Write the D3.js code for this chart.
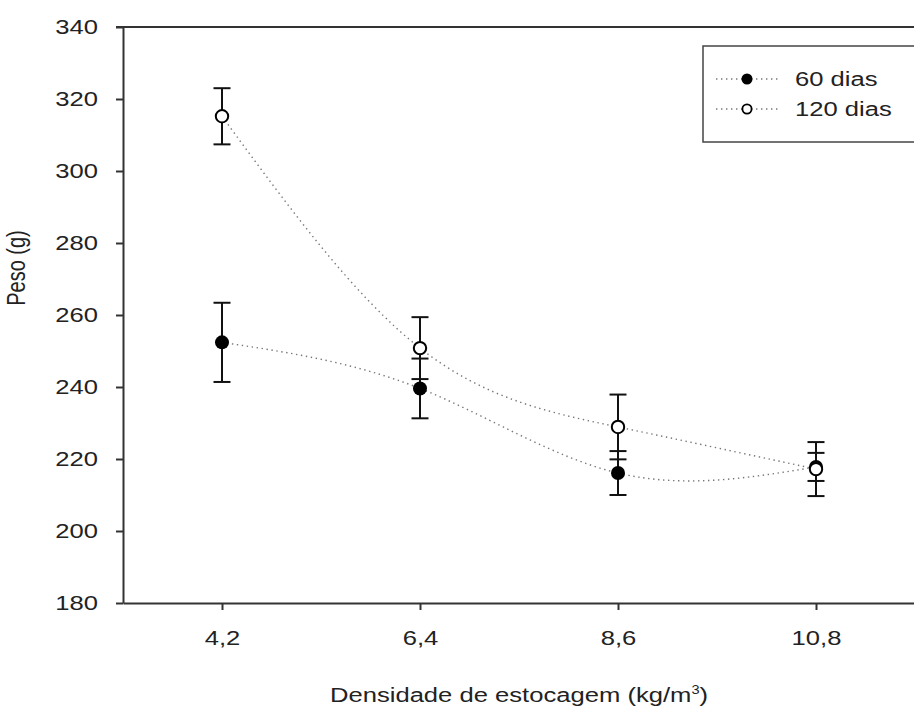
<!DOCTYPE html>
<html>
<head>
<meta charset="utf-8">
<script src="https://cdn.jsdelivr.net/npm/d3@7"></script>
<style>
html,body{margin:0;padding:0;background:#fff;}
svg{display:block;font-family:"Liberation Sans",Arial,sans-serif;}
</style>
</head>
<body>
<svg id="chart" width="914" height="709"></svg>
<script>
// ---- data ----
const xValues = [4.2, 6.4, 8.6, 10.8];
const xTickLabels = ["4,2", "6,4", "8,6", "10,8"];
const mean60 = [252.4, 239.6, 216.1, 217.8];
const err60 = [11.0, 8.3, 6.1, 3.9];
const mean120 = [315.2, 250.8, 228.9, 217.2];
const err120 = [7.8, 8.6, 9.0, 7.5];
const yTickValues = [180, 200, 220, 240, 260, 280, 300, 320, 340];
const seriesNames = ["60 dias", "120 dias"];

(function () {
// ---- layout ----
const svg = d3.select("#chart");
const mLeft = 123, mTop = 27, mBottom = 603, mRight = 915;
const SX = 1.22;          // horizontal text stretch seen in the reference
const FS = 21;            // font size
const x = d3.scaleLinear().domain([3.1, 11.9]).range([mLeft, mRight]);
const y = d3.scaleLinear().domain([180, 340]).range([mBottom, mTop]);

const series = [
  {name: seriesNames[0], mean: mean60, err: err60, fill: "#000"},
  {name: seriesNames[1], mean: mean120, err: err120, fill: "#fff"}
];

// frame top line
svg.append("line").attr("x1", mLeft - 7).attr("x2", 914).attr("y1", y(340)).attr("y2", y(340))
  .attr("stroke", "#333").attr("stroke-width", 2);

// axes
const yAxis = d3.axisLeft(y).tickValues(yTickValues).tickSize(7).tickPadding(18).tickSizeOuter(0);
const gy = svg.append("g").attr("transform", `translate(${mLeft},0)`).call(yAxis);
const xAxis = d3.axisBottom(x).tickValues(xValues).tickFormat((d, i) => xTickLabels[i]).tickSize(7).tickPadding(20).tickSizeOuter(0);
const gx = svg.append("g").attr("transform", `translate(0,${mBottom})`).call(xAxis);
[gx, gy].forEach(g => {
  g.select(".domain").attr("stroke", "#333").attr("stroke-width", 2);
  g.selectAll(".tick line").attr("stroke", "#333").attr("stroke-width", 2);
  g.selectAll(".tick text").attr("fill", "#222").style("font-size", FS + "px")
    .style("font-family", "'Liberation Sans', Arial, sans-serif")
    .attr("transform", `scale(${SX},1)`);
});
gy.selectAll(".tick text").attr("x", -(7 + 18) / SX);

// axis titles
svg.append("g").attr("transform", "translate(25,268) rotate(-90)")
  .append("text").attr("text-anchor", "middle").attr("fill", "#222")
  .attr("transform", `scale(0.95,${SX})`)
  .style("font-size", FS + "px").text("Peso (g)");
const xt = svg.append("g").attr("transform", "translate(519,702)")
  .append("text").attr("text-anchor", "middle").attr("transform", `scale(${SX},1)`)
  .attr("fill", "#222").style("font-size", FS + "px");
xt.append("tspan").text("Densidade de estocagem (kg/m");
xt.append("tspan").attr("dy", -8).style("font-size", "12px").text("3");
xt.append("tspan").attr("dy", 8).text(")");

// fitted curves
const line = d3.line().x(d => x(d[0])).y(d => y(d[1])).curve(d3.curveNatural);
series.forEach(s => {
  svg.append("path").datum(xValues.map((v, i) => [v, s.mean[i]]))
    .attr("d", line).attr("fill", "none").attr("stroke", "#777")
    .attr("stroke-width", 1.4).attr("stroke-dasharray", "1.4,3.6");
});

// error bars
const cap = 8.5;
series.forEach(s => {
  const g = svg.append("g");
  xValues.forEach((v, i) => {
    const cx = x(v), y1 = y(s.mean[i] + s.err[i]), y2 = y(s.mean[i] - s.err[i]);
    g.append("line").attr("x1", cx).attr("x2", cx).attr("y1", y1).attr("y2", y2)
      .attr("stroke", "#111").attr("stroke-width", 2);
    [y1, y2].forEach(yy => g.append("line").attr("x1", cx - cap).attr("x2", cx + cap)
      .attr("y1", yy).attr("y2", yy).attr("stroke", "#111").attr("stroke-width", 2));
  });
});

// markers
series.forEach(s => {
  svg.append("g").selectAll("circle").data(xValues).join("circle")
    .attr("cx", d => x(d)).attr("cy", (d, i) => y(s.mean[i]))
    .attr("r", s.fill === "#000" ? 7 : 6.2)
    .attr("fill", s.fill).attr("stroke", "#000").attr("stroke-width", s.fill === "#000" ? 0 : 2);
});

// legend
const lg = svg.append("g");
lg.append("rect").attr("x", 703).attr("y", 46).attr("width", 240).attr("height", 96)
  .attr("fill", "#fff").attr("stroke", "#444").attr("stroke-width", 1.5);
series.forEach((s, i) => {
  const ly = 79 + i * 30;
  lg.append("line").attr("x1", 716).attr("x2", 778).attr("y1", ly).attr("y2", ly)
    .attr("stroke", "#777").attr("stroke-width", 1.4).attr("stroke-dasharray", "1.4,3.6");
  lg.append("circle").attr("cx", 747).attr("cy", ly).attr("r", s.fill === "#000" ? 5.5 : 4.6)
    .attr("fill", s.fill).attr("stroke", "#000").attr("stroke-width", s.fill === "#000" ? 0 : 1.8);
  lg.append("g").attr("transform", `translate(795,${ly})`)
    .append("text").attr("dy", "0.35em").attr("fill", "#222").attr("transform", `scale(${SX},1)`)
    .style("font-size", FS + "px").text(s.name);
});
})();
</script>
</body>
</html>
